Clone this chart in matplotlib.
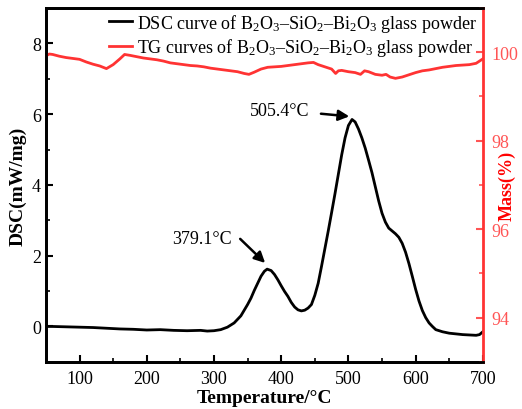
import matplotlib
matplotlib.use("Agg")
import matplotlib.pyplot as plt
from matplotlib.ticker import MultipleLocator

plt.rcParams["font.family"] = ["Liberation Serif", "DejaVu Serif"]
plt.rcParams["mathtext.fontset"] = "custom"
plt.rcParams["mathtext.rm"] = "Liberation Serif"
plt.rcParams["mathtext.it"] = "Liberation Serif:italic"
plt.rcParams["mathtext.bf"] = "Liberation Serif:bold"

# DSC curve (mW/mg) vs temperature (°C)
dsc_temp = [50, 60, 80, 100, 120, 140, 160, 180, 200, 220, 240, 260, 280, 290, 300,
            310, 320, 330, 340, 350, 355, 360, 365, 370, 375, 379.1, 385, 390, 395,
            400, 405, 410, 415, 420, 425, 430, 435, 440, 445, 450, 455, 460, 465,
            470, 475, 480, 485, 490, 495, 500, 505.4, 510, 515, 520, 525, 530, 535,
            540, 545, 550, 555, 560, 565, 570, 575, 580, 585, 590, 595, 600, 605,
            610, 615, 620, 625, 630, 640, 650, 660, 670, 680, 690, 695, 700]
dsc_val = [0.00, 0.00, -0.01, -0.02, -0.03, -0.05, -0.07, -0.08, -0.10, -0.09, -0.11,
           -0.12, -0.11, -0.13, -0.12, -0.09, -0.02, 0.10, 0.30, 0.62, 0.80, 1.02,
           1.22, 1.42, 1.56, 1.62, 1.58, 1.47, 1.32, 1.15, 0.99, 0.85, 0.68, 0.55,
           0.47, 0.44, 0.46, 0.52, 0.62, 0.88, 1.22, 1.70, 2.20, 2.70, 3.22, 3.75,
           4.30, 4.85, 5.33, 5.68, 5.85, 5.78, 5.58, 5.33, 5.04, 4.70, 4.35, 3.95,
           3.55, 3.20, 2.95, 2.78, 2.70, 2.62, 2.52, 2.35, 2.10, 1.78, 1.42, 1.05,
           0.72, 0.45, 0.25, 0.10, 0.00, -0.09, -0.15, -0.19, -0.21, -0.23, -0.24,
           -0.25, -0.23, -0.15]

# TG curve (mass %) vs temperature (°C)
tg_temp = [50, 55, 60, 70, 80, 90, 100, 110, 120, 130, 140, 150, 160, 167, 175, 185,
           195, 205, 215, 225, 235, 245, 255, 265, 275, 285, 295, 305, 315, 325, 335,
           345, 352, 360, 370, 380, 390, 400, 410, 420, 430, 440, 448, 455, 465, 475,
           481, 485, 490, 500, 510, 518, 524, 530, 540, 550, 556, 562, 570, 580, 590,
           600, 610, 620, 630, 640, 650, 660, 670, 680, 690, 700]
tg_val = [99.92, 99.96, 99.95, 99.91, 99.88, 99.86, 99.84, 99.78, 99.73, 99.69, 99.63,
          99.72, 99.85, 99.95, 99.93, 99.90, 99.87, 99.85, 99.83, 99.80, 99.76, 99.74,
          99.72, 99.70, 99.69, 99.67, 99.64, 99.62, 99.60, 99.58, 99.56, 99.52, 99.50,
          99.55, 99.62, 99.66, 99.67, 99.68, 99.70, 99.72, 99.74, 99.76, 99.77, 99.72,
          99.67, 99.62, 99.52, 99.58, 99.59, 99.56, 99.54, 99.50, 99.58, 99.56, 99.50,
          99.48, 99.50, 99.44, 99.41, 99.44, 99.49, 99.54, 99.58, 99.60, 99.63, 99.66,
          99.68, 99.70, 99.71, 99.72, 99.75, 99.85]

peak_temps = [379.1, 505.4]
peak_labels = ["379.1°C", "505.4°C"]

x_ticks = [100, 200, 300, 400, 500, 600, 700]
dsc_ticks = [0, 2, 4, 6, 8]
mass_ticks = [94, 96, 98, 100]

RED = "#ff3333"
RED_LIGHT = "#ff5555"

fig = plt.figure(figsize=(5.22, 4.10), dpi=100)
ax = fig.add_axes([0.088, 0.115, 0.837, 0.863])
ax2 = ax.twinx()

l1, = ax.plot(dsc_temp, dsc_val, color="black", lw=2.0)
l2, = ax2.plot(tg_temp, tg_val, color=RED, lw=2.0)

ax.set_xlim(50, 700)
ax.set_ylim(-1, 9)
ax2.set_ylim(93, 101)

ax.set_xticks(x_ticks)
ax.xaxis.set_minor_locator(MultipleLocator(50))
ax.set_yticks(dsc_ticks)
ax.yaxis.set_minor_locator(MultipleLocator(1))
ax2.set_yticks(mass_ticks)
ax2.yaxis.set_minor_locator(MultipleLocator(1))

ax.tick_params(axis="both", which="major", direction="in", length=5, width=1.5,
               labelsize=13, colors="black")
ax.tick_params(axis="both", which="minor", direction="in", length=3, width=1.2)
ax.tick_params(axis="x", pad=6)
ax2.tick_params(axis="y", which="major", direction="in", length=5, width=1.5,
                labelsize=13, colors=RED_LIGHT, pad=6)
ax2.tick_params(axis="y", which="minor", direction="in", length=3, width=1.2,
                colors=RED_LIGHT)

for side in ["left", "bottom", "top"]:
    ax.spines[side].set_linewidth(2.0)
    ax2.spines[side].set_linewidth(2.0)
ax2.spines["right"].set_linewidth(2.0)
ax2.spines["right"].set_color(RED)
ax.spines["right"].set_visible(False)

ax.set_xlabel("Temperature/°C", fontsize=14, fontweight="bold", labelpad=1)
ax.set_ylabel("DSC(mW/mg)", fontsize=14, fontweight="bold", labelpad=4)
ax2.set_ylabel("Mass(%)", fontsize=13, fontweight="bold", color="red")
ax2.yaxis.set_label_coords(1.035, 0.5)

# Peak annotations
ax.text(442, 6.1, peak_labels[1], fontsize=13, ha="right", va="center")
ax.annotate("", xy=(peak_temps[1], 5.93), xytext=(455, 6.02),
            arrowprops=dict(arrowstyle="-|>", color="black", lw=1.8, mutation_scale=16))
ax.text(327, 2.5, peak_labels[0], fontsize=13, ha="right", va="center")
ax.annotate("", xy=(peak_temps[0], 1.74), xytext=(336, 2.53),
            arrowprops=dict(arrowstyle="-|>", color="black", lw=1.8, mutation_scale=16))

ax.legend([l1, l2],
          ["DSC curve of B$_2$O$_3$–SiO$_2$–Bi$_2$O$_3$ glass powder",
           "TG curves of B$_2$O$_3$–SiO$_2$–Bi$_2$O$_3$ glass powder"],
          loc="upper left", bbox_to_anchor=(0.135, 1.0), frameon=False,
          fontsize=13, handlelength=1.3, handletextpad=0.25, labelspacing=0.15,
          borderpad=0.2, borderaxespad=0)

fig.savefig("out.png", dpi=100)
